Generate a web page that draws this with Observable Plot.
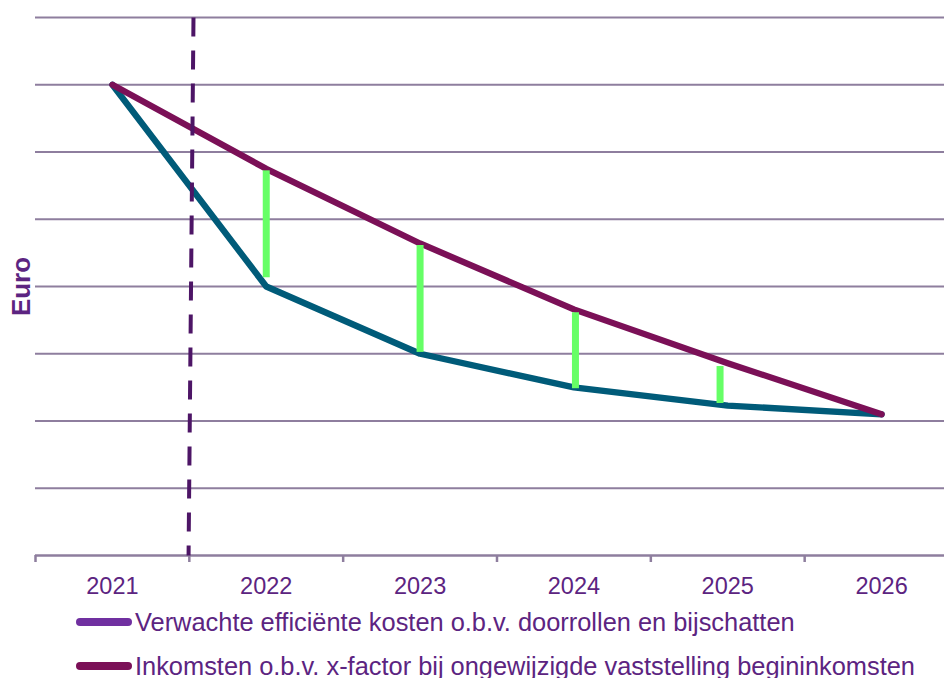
<!DOCTYPE html>
<html>
<head>
<meta charset="utf-8">
<script src="https://cdn.jsdelivr.net/npm/d3@7"></script>
<script src="https://cdn.jsdelivr.net/npm/@observablehq/plot@0.6"></script>
<style>
  html, body { margin: 0; padding: 0; background: #fff; overflow: hidden; }
  body { width: 944px; height: 678px; font-family: "Liberation Sans", Arial, sans-serif; }
  #legend { position: absolute; left: 0; top: 600px; width: 944px; }
  .row { height: 44px; display: flex; align-items: center; color: #5c2481; font-size: 25.4px; white-space: nowrap; }
  .sw { display: inline-block; width: 56px; height: 8px; border-radius: 4px; margin-left: 76px; margin-right: 3px; }
</style>
</head>
<body>
<div id="chart"></div>
<div id="legend"></div>
<script>
const years = [2021, 2022, 2023, 2024, 2025, 2026];
const tickYears = [2020.5, 2021.5, 2022.5, 2023.5, 2024.5, 2025.5];
const gridValues = [1, 2, 3, 4, 5, 6, 7, 8];
const inkomsten = [7.0, 5.75, 4.64, 3.66, 2.86, 2.10];
const kosten = [7.0, 4.0, 3.0, 2.50, 2.23, 2.10];
const gapX = [2022, 2023, 2024.01, 2024.95];
const gapTop = [5.72, 4.61, 3.61, 2.81];
const gapBottom = [4.13, 3.02, 2.48, 2.26];
const markerX = [2021.527, 2021.495];
const legendLabels = [
  "Verwachte efficiënte kosten o.b.v. doorrollen en bijschatten",
  "Inkomsten o.b.v. x-factor bij ongewijzigde vaststelling begininkomsten"
];
const legendColors = ["#7030a0", "#7b1057"];

const gridColor = "#8e7e9e";
const textColor = "#5c2481";

const kostenData = years.map((y, i) => ({year: y, v: kosten[i]}));
const inkData = years.map((y, i) => ({year: y, v: inkomsten[i]}));
const gapData = gapX.map((x, i) => ({x, top: gapTop[i], bottom: gapBottom[i]}));

const chart = Plot.plot({
  width: 944,
  height: 600,
  marginTop: 17,
  marginBottom: 45,
  marginLeft: 35,
  marginRight: 0,
  style: {fontFamily: "'Liberation Sans', Arial, sans-serif", background: "transparent", overflow: "visible"},
  x: {domain: [2020.5, 2026.5], range: [35, 958], axis: null},
  y: {domain: [0, 8], axis: null},
  marks: [
    Plot.ruleY(gridValues, {y: d => d, stroke: gridColor, strokeWidth: 2, x1: 2020.5, x2: 2026.5}),
    Plot.ruleY([0], {y: d => d, stroke: gridColor, strokeWidth: 2.5, x1: 2020.5, x2: 2026.5}),
    Plot.axisX({ticks: tickYears, tickSize: 7, tickFormat: () => "", stroke: gridColor, strokeWidth: 2.5}),
    Plot.text(years, {x: d => d, y: 0, dy: 31, text: d => String(d), fontSize: 23.5, fill: textColor, lineAnchor: "middle"}),
    Plot.text(["Euro"], {x: 2020.5, y: 4, dx: -14, rotate: -90, text: d => d, fontSize: 26, fontWeight: "bold", fill: textColor, frameAnchor: "middle"}),
    Plot.line(kostenData, {x: "year", y: "v", stroke: "#005b79", strokeWidth: 6.3, strokeLinejoin: "round", strokeLinecap: "round"}),
    Plot.line(inkData, {x: "year", y: "v", stroke: "#7b1057", strokeWidth: 6.3, strokeLinejoin: "round", strokeLinecap: "round"}),
    Plot.ruleX(gapData, {x: "x", y1: "top", y2: "bottom", stroke: "#66ff66", strokeWidth: 7}),
    Plot.link([{x1: markerX[0], x2: markerX[1]}], {x1: "x1", x2: "x2", y1: 8, y2: 0, stroke: "#4d1566", strokeWidth: 4, strokeDasharray: "19,14"})
  ]
});
document.getElementById("chart").appendChild(chart);

const legend = document.getElementById("legend");
legendLabels.forEach((label, i) => {
  const row = document.createElement("div");
  row.className = "row";
  const sw = document.createElement("span");
  sw.className = "sw";
  sw.style.background = legendColors[i];
  row.appendChild(sw);
  const t = document.createElement("span");
  t.textContent = label;
  row.appendChild(t);
  legend.appendChild(row);
});
</script>
</body>
</html>
